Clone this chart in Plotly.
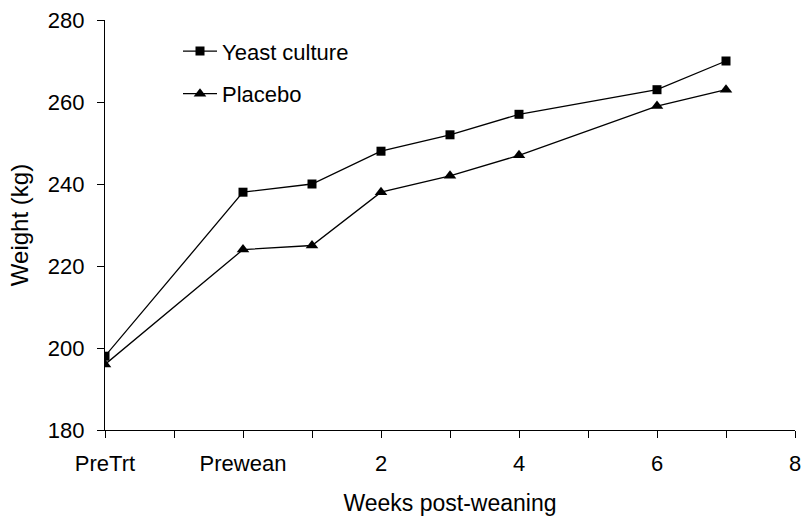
import plotly.graph_objects as go

x_pos = [0, 2, 3, 4, 5, 6, 8, 9]
yeast = [198, 238, 240, 248, 252, 257, 263, 270]
placebo = [196, 224, 225, 238, 242, 247, 259, 263]
tick_vals = [0, 2, 4, 6, 8, 10]
tick_text = ["PreTrt", "Prewean", "2", "4", "6", "8"]
minor_vals = [1, 3, 5, 7, 9]
y_ticks = [180, 200, 220, 240, 260, 280]

font = "Liberation Sans, Arial, sans-serif"

fig = go.Figure()
fig.add_trace(go.Scatter(x=x_pos, y=yeast, mode="lines+markers", name="Yeast culture",
                         legendgroup="a",
                         line=dict(color="black", width=1.3),
                         marker=dict(symbol="square", size=9, color="black")))
fig.add_trace(go.Scatter(x=x_pos, y=placebo, mode="lines+markers", name="Placebo",
                         legendgroup="b",
                         line=dict(color="black", width=1.3),
                         marker=dict(symbol="triangle-up", size=11, color="black")))

fig.update_layout(
    width=801, height=517,
    margin=dict(l=105, r=6, t=20, b=87),
    paper_bgcolor="white", plot_bgcolor="white",
    font=dict(family=font, size=22, color="black"),
    legend=dict(x=0.1058, y=0.975, xanchor="left", yanchor="top",
                bgcolor="rgba(0,0,0,0)", font=dict(size=22), itemwidth=34,
                traceorder="grouped", tracegroupgap=11),
    xaxis=dict(range=[0, 10], tickmode="array", tickvals=tick_vals, ticktext=tick_text,
               showline=True, linecolor="black", linewidth=1.3, automargin=False,
               ticks="outside", ticklen=7, tickcolor="black", tickwidth=1.3,
               tickfont=dict(size=22), ticklabelstandoff=6, ticklabeloverflow="allow",
               minor=dict(tickmode="array", tickvals=minor_vals, ticks="outside",
                          ticklen=7, tickcolor="black", tickwidth=1.3),
               showgrid=False, zeroline=False,
               title=dict(text="Weeks post-weaning", font=dict(size=23), standoff=20)),
    yaxis=dict(range=[180, 280], tickmode="array", tickvals=y_ticks,
               showline=True, linecolor="black", linewidth=1.3, automargin=False,
               ticks="outside", ticklen=7, tickcolor="black", tickwidth=1.3,
               tickfont=dict(size=22), ticklabelstandoff=8, ticklabeloverflow="allow",
               showgrid=False, zeroline=False,
               title=dict(text="Weight (kg)", font=dict(size=24), standoff=12)),
)

# remove the default page margin so the figure sits at the window's top-left corner
fig.write_html("out.html", config={"displayModeBar": False},
               post_script="document.body.style.margin='0';")
